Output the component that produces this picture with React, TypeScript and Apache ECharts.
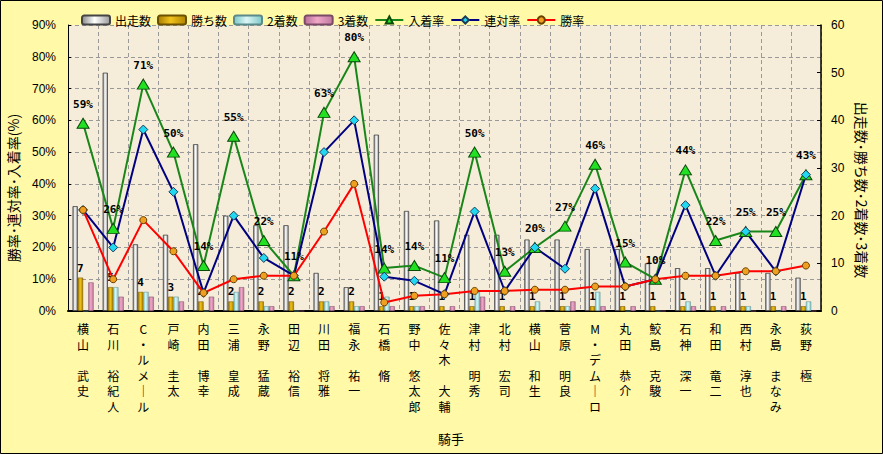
import React, { useEffect, useRef } from 'react';
import * as echarts from 'echarts';

const jockeys = [
  '横山 武史', '石川 裕紀人', 'C・ルメール', '戸崎 圭太', '内田 博幸', '三浦 皇成', '永野 猛蔵', '田辺 裕信',
  '川田 将雅', '福永 祐一', '石橋 脩', '野中 悠太郎', '佐々木 大輔', '津村 明秀', '北村 宏司', '横山 和生',
  '菅原 明良', 'M・デムーロ', '丸田 恭介', '鮫島 克駿', '石神 深一', '和田 竜二', '西村 淳也', '永島 まなみ', '荻野 極',
];
const runs = [22, 50, 14, 16, 35, 20, 18, 18, 8, 5, 37, 21, 19, 16, 16, 15, 15, 13, 13, 10, 9, 9, 8, 8, 7];
const wins = [7, 5, 4, 3, 2, 2, 2, 2, 2, 2, 1, 1, 1, 1, 1, 1, 1, 1, 1, 1, 1, 1, 1, 1, 1];
const seconds = [0, 5, 4, 3, 0, 4, 1, 0, 2, 1, 3, 1, 0, 4, 0, 2, 1, 4, 0, 0, 2, 0, 1, 0, 2];
const thirds = [6, 3, 3, 2, 3, 5, 1, 0, 1, 1, 1, 1, 1, 3, 1, 0, 2, 1, 1, 0, 1, 1, 0, 1, 0];
const placeRate = [59.1, 26, 71.4, 50, 14.3, 55, 22.2, 11.1, 62.5, 80, 13.5, 14.3, 10.5, 50, 12.5, 20, 26.7, 46.2, 15.4, 10, 44.4, 22.2, 25, 25, 42.9];
const top2Rate = [31.8, 20, 57.1, 37.5, 5.7, 30, 16.7, 11.1, 50, 60, 10.8, 9.5, 5.3, 31.3, 6.3, 20, 13.3, 38.5, 7.7, 10, 33.3, 11.1, 25, 12.5, 42.9];
const winRate = [31.8, 10, 28.6, 18.8, 5.7, 10, 11.1, 11.1, 25, 40, 2.7, 4.8, 5.3, 6.3, 6.3, 6.7, 6.7, 7.7, 7.7, 10, 11.1, 11.1, 12.5, 12.5, 14.3];

const verticalName = (n: string) =>
  n.split(' ').map((p) => p.replace(/ー/g, '｜').split('').join('\n')).join('\n\n');

const hGrad = (c1: string, c2: string, c3: string) =>
  new echarts.graphic.LinearGradient(0, 0, 1, 0, [
    { offset: 0, color: c1 },
    { offset: 0.45, color: c2 },
    { offset: 1, color: c3 },
  ]);

const FONT = "'Noto Sans CJK JP', 'Noto Sans', sans-serif";

export default function App() {
  const ref = useRef<HTMLDivElement>(null);
  useEffect(() => {
    const chart = echarts.init(ref.current!, undefined, { renderer: 'svg' });
    const barBase = { type: 'bar', yAxisIndex: 1, barGap: '0%', barCategoryGap: '30%' };
    chart.setOption({
      animation: false,
      backgroundColor: '#FFF9A8',
      textStyle: { fontFamily: FONT },
      legend: {
        left: 76,
        top: 9,
        itemWidth: 28,
        itemHeight: 9,
        itemGap: 6,
        textStyle: { fontSize: 12, color: '#000', fontFamily: FONT },
        data: ['出走数', '勝ち数', '2着数', '3着数', '入着率', '連対率', '勝率'],
      },
      grid: { left: 68, right: 62, top: 25, bottom: 143, show: true, backgroundColor: '#F5EDD9', borderWidth: 0 },
      xAxis: {
        type: 'category',
        data: jockeys.map(verticalName),
        axisLine: { lineStyle: { color: '#000', width: 2 } },
        axisTick: { show: false },
        splitLine: { show: true, lineStyle: { color: '#999', type: [4, 3] } },
        axisLabel: { interval: 0, color: '#000', fontSize: 12, lineHeight: 15.5, margin: 10, fontFamily: FONT },
      },
      yAxis: [
        {
          type: 'value', min: 0, max: 90, interval: 10,
          axisLine: { show: true, lineStyle: { color: '#000' } },
          axisTick: { show: true, length: 3, inside: true, lineStyle: { color: '#000' } },
          splitLine: { show: true, lineStyle: { color: '#999', type: [4, 3] } },
          axisLabel: { formatter: '{value}%', color: '#000', fontSize: 12, margin: 12, fontFamily: "'Liberation Sans', sans-serif" },
        },
        {
          type: 'value', min: 0, max: 60, interval: 10,
          axisLine: { show: true, lineStyle: { color: '#000', width: 1.5 } },
          axisTick: { show: true, length: 4, inside: true, lineStyle: { color: '#000' } },
          splitLine: { show: false },
          axisLabel: { color: '#000', fontSize: 12, margin: 10, fontFamily: "'Liberation Sans', sans-serif" },
        },
      ],
      series: [
        {
          ...barBase, name: '出走数', data: runs,
          itemStyle: { color: hGrad('#8a8a8a', '#ffffff', '#9a9a9a'), borderColor: '#444', borderWidth: 0.8 },
        },
        {
          ...barBase, name: '勝ち数', data: wins,
          itemStyle: { color: hGrad('#a87c00', '#f2c21a', '#b08400'), borderColor: '#6a5000', borderWidth: 0.5 },
          label: {
            show: true, position: 'top', distance: 4, color: '#000', fontWeight: 'bold', fontSize: 11,
            fontFamily: "'DejaVu Sans Mono', monospace",
          },
        },
        {
          ...barBase, name: '2着数', data: seconds,
          itemStyle: { color: hGrad('#7cc8c8', '#dcf6f6', '#80c8c8'), borderColor: '#5a8a8a', borderWidth: 0.5 },
        },
        {
          ...barBase, name: '3着数', data: thirds,
          itemStyle: { color: hGrad('#b86e98', '#f0a8c8', '#c07aa0'), borderColor: '#7a4a66', borderWidth: 0.5 },
        },
        {
          type: 'line', name: '入着率', data: placeRate, yAxisIndex: 0,
          lineStyle: { color: '#1a861a', width: 2 },
          itemStyle: { color: '#22e022', borderColor: '#0a4a0a', borderWidth: 1 },
          symbol: 'triangle', symbolSize: [12, 10], showAllSymbol: true,
          label: {
            show: true, position: 'top', distance: 8, color: '#000', fontWeight: 'bold', fontSize: 11,
            fontFamily: "'DejaVu Sans Mono', monospace",
            formatter: (p: any) => Math.round(p.value) + '%',
          },
        },
        {
          type: 'line', name: '連対率', data: top2Rate, yAxisIndex: 0,
          lineStyle: { color: '#000080', width: 2 },
          itemStyle: { color: '#22d8f0', borderColor: '#1a3a5a', borderWidth: 1 },
          symbol: 'diamond', symbolSize: 9, showAllSymbol: true,
        },
        {
          type: 'line', name: '勝率', data: winRate, yAxisIndex: 0,
          lineStyle: { color: '#ff0000', width: 2 },
          itemStyle: { color: '#f0a020', borderColor: '#6a4000', borderWidth: 1 },
          symbol: 'circle', symbolSize: 7, showAllSymbol: true,
        },
      ],
      graphic: [
        {
          type: 'rect', shape: { x: 0.5, y: 0.5, width: 882, height: 453 },
          style: { fill: 'none', stroke: '#000', lineWidth: 1 }, silent: true,
        },
        {
          type: 'text', x: 13, y: 188, rotation: Math.PI / 2,
          style: { text: '勝率･連対率･入着率(%)', fill: '#000', fontSize: 14, fontFamily: FONT, align: 'center', verticalAlign: 'middle' },
        },
        {
          type: 'text', x: 862, y: 190, rotation: -Math.PI / 2,
          style: { text: '出走数･勝ち数･2着数･3着数', fill: '#000', fontSize: 14, fontFamily: FONT, align: 'center', verticalAlign: 'middle' },
        },
        {
          type: 'text', x: 451, y: 438,
          style: { text: '騎手', fill: '#000', fontSize: 13, fontFamily: FONT, align: 'center', verticalAlign: 'middle' },
        },
      ],
    });
    return () => chart.dispose();
  }, []);
  return <div ref={ref} style={{ position: 'absolute', left: 0, top: 0, width: 883, height: 454 }} />;
}
